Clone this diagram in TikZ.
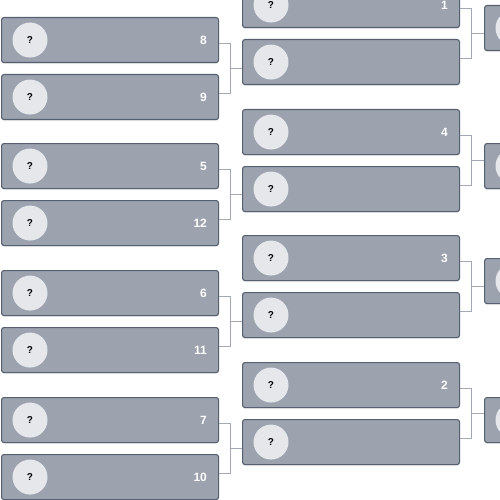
\documentclass[tikz,border=0pt]{standalone}
\usepackage{fontspec}
\setmainfont{Liberation Sans}
\usetikzlibrary{shadows,calc}
\definecolor{boxfill}{HTML}{9CA3AF}
\definecolor{boxline}{HTML}{576070}
\definecolor{circfill}{HTML}{E5E7EB}
\definecolor{connline}{HTML}{A3A9B4}
\begin{document}
\begin{tikzpicture}[x=1pt,y=-1pt]
\tikzset{
 teambox/.style={draw=boxline, fill=boxfill, line width=1.1pt, rounded corners=2.5pt,
   minimum width=217pt, minimum height=45pt, inner sep=0pt, anchor=north west,
   drop shadow={shadow xshift=0pt, shadow yshift=-1.5pt, opacity=0.15}},
 avatar/.style={circle, fill=circfill, minimum size=35pt, inner sep=0pt,
   font=\fontsize{10}{11}\selectfont\bfseries, text=black},
 seed/.style={anchor=east, text=white, font=\fontsize{12}{13}\selectfont\bfseries, inner sep=0pt},
 conn/.style={draw=connline, line width=1pt}
}
\useasboundingbox (0,0) rectangle (500,500);
\clip (0,0) rectangle (500,500);
% first two columns
\foreach \n/\x/\y/\lab in {L1/1/17/8, L2/1/74/9, L3/1/143/5, L4/1/200/12,
   L5/1/270/6, L6/1/327/11, L7/1/397/7, L8/1/454/10,
   R1/242/-18/1, R2/242/39/{}, R3/242/109/4, R4/242/166/{},
   R5/242/235/3, R6/242/292/{}, R7/242/362/2, R8/242/419/{}}{
  \node[teambox] (\n) at (\x,\y) {};
  \node[avatar] (\n-c) at ([xshift=29pt]\n.west) {?};
  \node[seed] (\n-s) at ([xshift=-12pt]\n.east) {\lab};
}
% third column (cut off at the right edge)
\foreach \n/\y in {T1/5, T2/143, T3/258, T4/397}{
  \node[teambox] (\n) at (484,\y) {};
  \node[avatar] (\n-c) at ([xshift=29pt]\n.west) {};
}
% connectors
\foreach \a/\b/\t in {L1/L2/R2, L3/L4/R4, L5/L6/R6, L7/L8/R8,
   R1/R2/T1, R3/R4/T2, R5/R6/T3, R7/R8/T4}{
  \draw[conn] ([yshift=-3.5pt]\a.east) -- ++(11,0) |- ([yshift=3.5pt]\b.east);
  \coordinate (\a-m) at ($(\a.east)!0.5!(\b.east)+(11,0)$);
  \draw[conn] (\a-m) -- (\a-m -| \t.west);
}
\end{tikzpicture}
\end{document}
